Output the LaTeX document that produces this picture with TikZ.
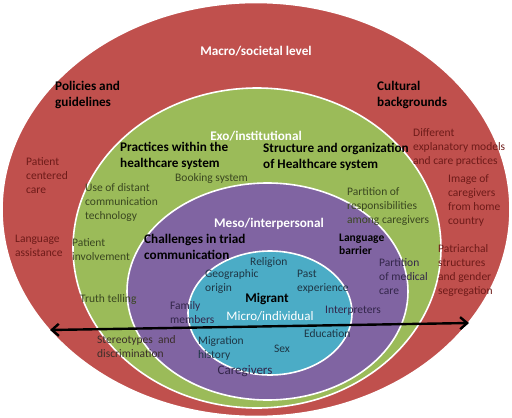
\documentclass[tikz,border=0pt]{standalone}
\usepackage{fontspec}
\setmainfont{Carlito}
\usetikzlibrary{arrows.meta}
\definecolor{redfill}{HTML}{C0504D}
\definecolor{greenfill}{HTML}{9BBB59}
\definecolor{purplefill}{HTML}{8064A2}
\definecolor{cyanfill}{HTML}{4BACC6}
\definecolor{redtxt}{HTML}{6E1B19}
\definecolor{greentxt}{HTML}{3A4720}
\definecolor{purpletxt}{HTML}{33264A}
\definecolor{cyantxt}{HTML}{1E3645}
\definecolor{stertxt}{HTML}{3A2E2A}
\tikzset{
  ring/.style={draw=white, line width=1.6pt},
  sm/.style={font=\fontsize{11.5}{14}\selectfont, align=left, inner sep=0pt, anchor=west},
  bd/.style={font=\fontsize{13.2}{16}\bfseries\selectfont, align=left, inner sep=0pt, anchor=west},
  lvl/.style={font=\fontsize{13.2}{16}\bfseries\selectfont, text=white, inner sep=0pt},
}
\begin{document}
\begin{tikzpicture}[x=1pt,y=-1pt]
\useasboundingbox (0,0) rectangle (512,418);
% rings
\path[fill=redfill, ring] (256,209.5) ellipse [x radius=254pt, y radius=207pt];
\path[fill=greenfill, ring] (257,248) ellipse [x radius=184pt, y radius=160pt];
\path[fill=purplefill, ring] (267.5,291.5) ellipse [x radius=140.5pt, y radius=108.5pt];
\path[fill=cyanfill, ring] (270,313) ellipse [x radius=82pt, y radius=62pt];
% level titles
\node[lvl] (macro) at (256,51) {Macro/societal level};
\node[lvl] (exo) at (256,136) {Exo/institutional};
\node[lvl] (meso) at (269,224) {Meso/interpersonal};
\node[font=\fontsize{13.2}{16}\bfseries\selectfont, inner sep=0pt] (migrant) at (267,299) {Migrant};
\node[font=\fontsize{13}{16}\selectfont, text=white, inner sep=0pt] (micro) at (270,316) {Micro/individual};
% macro level texts
\node[bd] (policies) at (55,95) {Policies and\\guidelines};
\node[bd] (cultural) at (377,95) {Cultural\\backgrounds};
\node[sm, text=redtxt] (different) at (413,147) {Different\\explanatory models\\and care practices};
\node[sm, text=redtxt] (image) at (448,200.5) {Image of\\caregivers\\from home\\country};
\node[sm, text=redtxt] (patriarchal) at (438,270) {Patriarchal\\structures\\and gender\\segregation};
\node[sm, text=redtxt] (pcc) at (26,176) {Patient\\centered\\care};
\node[sm, text=redtxt] (langass) at (15,246) {Language\\assistance};
% exo level texts
\node[bd] (practices) at (120,156) {Practices within the\\healthcare system};
\node[bd] (structure) at (263,157) {Structure and organization\\of Healthcare system};
\node[sm, text=greentxt] (booking) at (175,178) {Booking system};
\node[sm, text=greentxt] (distant) at (85,202.5) {Use of distant\\communication\\technology};
\node[sm, text=greentxt] (involve) at (72,249.5) {Patient\\involvement};
\node[sm, text=greentxt] (truth) at (80,299) {Truth telling};
\node[sm, text=greentxt] (partresp) at (347,207) {Partition of\\responsibilities\\among caregivers};
\node[sm, text=stertxt] (stereo) at (97,346.5) {Stereotypes\ \ and\\discrimination};
% meso level texts
\node[bd] (challenges) at (144,246.5) {Challenges in triad\\communication};
\node[sm, font=\fontsize{11.5}{13.5}\bfseries\selectfont] (langbar) at (339,244.5) {Language\\barrier};
\node[sm, text=purpletxt] (partmed) at (379,277) {Partition\\of medical\\care};
\node[sm, text=purpletxt] (family) at (170,313) {Family\\members};
\node[sm, text=cyantxt] (geo) at (205,281.5) {Geographic\\origin};
\node[sm, text=cyantxt] (religion) at (250,262) {Religion};
\node[sm, text=cyantxt] (past) at (297,282) {Past\\experience};
\node[sm, text=purpletxt] (interp) at (325,311) {Interpreters};
\node[font=\fontsize{13}{16}\selectfont, text=purpletxt, inner sep=0pt] (caregivers) at (245,371) {Caregivers};
% micro level texts
\node[sm, text=cyantxt] (mighist) at (198,348.5) {Migration\\history};
\node[sm, text=cyantxt] (education) at (304,334) {Education};
\node[sm, text=cyantxt, anchor=center] (sex) at (282,349) {Sex};
% arrow
\coordinate (arrL) at (50,330);
\coordinate (arrR) at (469,323);
\draw[line width=2.4pt, {Straight Barb[length=7pt,width=12pt]}-{Straight Barb[length=7pt,width=12pt]}] (arrL) -- (arrR);
\end{tikzpicture}
\end{document}
